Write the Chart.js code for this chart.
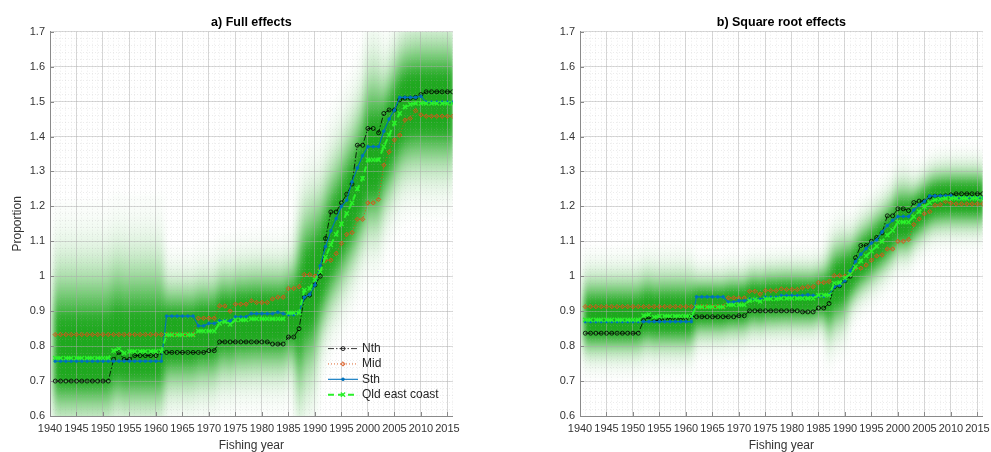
<!DOCTYPE html>
<html>
<head>
<meta charset="utf-8">
<script src="https://cdn.jsdelivr.net/npm/chart.js@4.4.1/dist/chart.umd.min.js"></script>
<style>
  html, body { margin: 0; padding: 0; background: #ffffff; }
  #wrap { position: relative; width: 991px; height: 452px; overflow: hidden; background: #ffffff; }
  .panel { position: absolute; top: 0; width: 480px; height: 452px; }
  #pA { left: 0; }
  #pB { left: 530px; }
</style>
</head>
<body>
<div id="wrap">
  <div class="panel" id="pA"><canvas id="cA" width="480" height="452"></canvas></div>
  <div class="panel" id="pB"><canvas id="cB" width="480" height="452"></canvas></div>
</div>
<script>
// ---- data -------------------------------------------------------------
const years = [
  1941,1942,1943,1944,1945,1946,1947,1948,1949,1950,
  1951,1952,1953,1954,1955,1956,1957,1958,1959,1960,
  1961,1962,1963,1964,1965,1966,1967,1968,1969,1970,
  1971,1972,1973,1974,1975,1976,1977,1978,1979,1980,
  1981,1982,1983,1984,1985,1986,1987,1988,1989,1990,
  1991,1992,1993,1994,1995,1996,1997,1998,1999,2000,
  2001,2002,2003,2004,2005,2006,2007,2008,2009,2010,
  2011,2012,2013,2014,2015,2016
];
const xTicks = [1940,1945,1950,1955,1960,1965,1970,1975,1980,1985,1990,1995,2000,2005,2010,2015];
const yTicks = [0.6,0.7,0.8,0.9,1,1.1,1.2,1.3,1.4,1.5,1.6,1.7];
const seriesNames = ['Nth', 'Mid', 'Sth', 'Qld east coast'];

// a) full effects
const fullNth = [
  0.700,0.700,0.700,0.700,0.700,0.700,0.700,0.700,0.700,0.700,
  0.700,0.762,0.782,0.762,0.762,0.773,0.773,0.773,0.773,0.773,
  0.782,0.782,0.782,0.782,0.782,0.782,0.782,0.782,0.782,0.787,
  0.787,0.812,0.812,0.812,0.812,0.812,0.812,0.812,0.812,0.812,
  0.812,0.806,0.806,0.806,0.826,0.826,0.850,0.940,0.946,0.975,
  1.000,1.108,1.184,1.184,1.210,1.235,1.264,1.375,1.375,1.423,
  1.423,1.411,1.466,1.476,1.476,1.505,1.510,1.510,1.512,1.520,
  1.528,1.528,1.528,1.528,1.528,1.528
];
const fullMid = [
  0.833,0.833,0.833,0.833,0.833,0.833,0.833,0.833,0.833,0.833,
  0.833,0.833,0.833,0.833,0.833,0.833,0.833,0.833,0.833,0.833,
  0.833,0.833,0.833,0.833,0.833,0.833,0.833,0.880,0.880,0.880,
  0.880,0.915,0.915,0.900,0.920,0.920,0.920,0.930,0.925,0.925,
  0.925,0.935,0.940,0.940,0.965,0.965,0.970,1.005,1.005,1.000,
  1.020,1.046,1.046,1.065,1.094,1.120,1.125,1.163,1.163,1.210,
  1.210,1.220,1.318,1.356,1.390,1.404,1.447,1.452,1.474,1.462,
  1.458,1.458,1.458,1.458,1.458,1.458
];
const fullSth = [
  0.757,0.757,0.757,0.757,0.757,0.757,0.757,0.757,0.757,0.757,
  0.757,0.757,0.757,0.757,0.757,0.757,0.757,0.757,0.757,0.757,
  0.757,0.886,0.886,0.886,0.886,0.886,0.886,0.858,0.858,0.865,
  0.865,0.872,0.872,0.872,0.884,0.884,0.884,0.893,0.893,0.893,
  0.893,0.893,0.897,0.893,0.890,0.890,0.897,0.940,0.948,0.975,
  1.030,1.085,1.130,1.165,1.200,1.218,1.270,1.310,1.345,1.371,
  1.371,1.371,1.415,1.450,1.475,1.512,1.512,1.512,1.512,1.515,
  1.498,1.498,1.498,1.498,1.498,1.498
];
const fullQld = [
  0.766,0.766,0.766,0.766,0.766,0.766,0.766,0.766,0.766,0.766,
  0.766,0.787,0.792,0.780,0.785,0.785,0.785,0.785,0.785,0.785,
  0.785,0.832,0.832,0.832,0.832,0.832,0.832,0.843,0.843,0.843,
  0.843,0.865,0.870,0.862,0.875,0.875,0.875,0.878,0.878,0.878,
  0.878,0.878,0.878,0.878,0.895,0.895,0.895,0.960,0.965,0.990,
  1.013,1.055,1.090,1.120,1.150,1.180,1.210,1.250,1.280,1.333,
  1.333,1.333,1.371,1.404,1.438,1.466,1.485,1.492,1.495,1.495,
  1.495,1.495,1.495,1.495,1.495,1.495
];

// b) square root effects
const sqrtNth = [
  0.837,0.837,0.837,0.837,0.837,0.837,0.837,0.837,0.837,0.837,
  0.837,0.873,0.884,0.873,0.873,0.879,0.879,0.879,0.879,0.879,
  0.884,0.884,0.884,0.884,0.884,0.884,0.884,0.884,0.884,0.887,
  0.887,0.901,0.901,0.901,0.901,0.901,0.901,0.901,0.901,0.901,
  0.901,0.898,0.898,0.898,0.909,0.909,0.922,0.970,0.973,0.987,
  1.000,1.053,1.088,1.088,1.100,1.111,1.124,1.173,1.173,1.193,
  1.193,1.188,1.211,1.215,1.215,1.227,1.229,1.229,1.230,1.233,
  1.236,1.236,1.236,1.236,1.236,1.236
];
const sqrtMid = [
  0.913,0.913,0.913,0.913,0.913,0.913,0.913,0.913,0.913,0.913,
  0.913,0.913,0.913,0.913,0.913,0.913,0.913,0.913,0.913,0.913,
  0.913,0.913,0.913,0.913,0.913,0.913,0.913,0.938,0.938,0.938,
  0.938,0.957,0.957,0.949,0.959,0.959,0.959,0.964,0.962,0.962,
  0.962,0.967,0.970,0.970,0.982,0.982,0.985,1.002,1.002,1.000,
  1.010,1.023,1.023,1.032,1.046,1.058,1.061,1.078,1.078,1.100,
  1.100,1.105,1.148,1.164,1.179,1.185,1.203,1.205,1.214,1.209,
  1.207,1.207,1.207,1.207,1.207,1.207
];
const sqrtSth = [
  0.870,0.870,0.870,0.870,0.870,0.870,0.870,0.870,0.870,0.870,
  0.870,0.870,0.870,0.870,0.870,0.870,0.870,0.870,0.870,0.870,
  0.870,0.941,0.941,0.941,0.941,0.941,0.941,0.926,0.926,0.930,
  0.930,0.934,0.934,0.934,0.940,0.940,0.940,0.945,0.945,0.945,
  0.945,0.945,0.947,0.945,0.943,0.943,0.947,0.970,0.974,0.987,
  1.015,1.042,1.063,1.079,1.095,1.104,1.127,1.145,1.160,1.171,
  1.171,1.171,1.190,1.204,1.214,1.230,1.230,1.230,1.230,1.231,
  1.224,1.224,1.224,1.224,1.224,1.224
];
const sqrtQld = [
  0.875,0.875,0.875,0.875,0.875,0.875,0.875,0.875,0.875,0.875,
  0.875,0.887,0.890,0.883,0.886,0.886,0.886,0.886,0.886,0.886,
  0.886,0.912,0.912,0.912,0.912,0.912,0.912,0.918,0.918,0.918,
  0.918,0.930,0.933,0.928,0.935,0.935,0.935,0.937,0.937,0.937,
  0.937,0.937,0.937,0.937,0.946,0.946,0.946,0.980,0.982,0.995,
  1.006,1.027,1.044,1.058,1.072,1.086,1.100,1.118,1.131,1.155,
  1.155,1.155,1.171,1.185,1.199,1.211,1.219,1.221,1.223,1.223,
  1.223,1.223,1.223,1.223,1.223,1.223
];

// spread of the coast-wide estimate (spread below / above the line), by period
const bandFrom = [1941, 1962, 1987, 1991, 2000, 2003];
const bandTo   = [1961, 1986, 1990, 1999, 2002, 2016];
const fullSpreadBelow = [0.095, 0.090, 0.150, 0.110, 0.120, 0.110];
const fullSpreadAbove = [0.150, 0.085, 0.140, 0.130, 0.150, 0.110];
const sqrtSpreadBelow = [0.056, 0.050, 0.075, 0.055, 0.055, 0.050];
const sqrtSpreadAbove = [0.070, 0.050, 0.070, 0.060, 0.065, 0.050];

// ---- styling ----------------------------------------------------------
const FONT = '"Liberation Sans", Arial, Helvetica, sans-serif';
Chart.defaults.font.family = FONT;

const lineStyles = [
  { color: '#000000', width: 0.8, dash: [6, 2, 1.5, 2], point: 'circle',   radius: 2.0, pw: 0.8, fill: 'rgba(255,255,255,0)' },
  { color: '#D95319', width: 0.9, dash: [1, 2],         point: 'rectRot',  radius: 2.2, pw: 0.9, fill: 'rgba(217,83,25,0.25)' },
  { color: '#0072BD', width: 1.1, dash: [],             point: 'circle',   radius: 1.4, pw: 0.8, fill: '#0072BD' },
  { color: '#2BF02B', width: 2.0, dash: [6, 4],         point: 'crossRot', radius: 3.0, pw: 1.4, fill: '#2BF02B' }
];
const drawOrder = [3, 2, 1, 0];
const GRID_MAJOR = 'rgba(170,170,170,0.45)';
const GRID_MINOR = 'rgba(170,170,170,0.22)';
const AXIS = '#8a8a8a';
const TEXT = '#333333';

function bandAlpha(z) {
  return Math.min(1, 1.25 * Math.exp(-z * z / 2));
}
function bandColor(z) {
  return 'rgba(30,168,30,' + bandAlpha(z).toFixed(4) + ')';
}

// soft green density band around the coast-wide series
function densityBand(centers, below, above) {
  return {
    id: 'densityBand',
    beforeDraw(chart) {
      const { ctx, chartArea: a, scales: { x, y } } = chart;
      const off = document.createElement('canvas');
      off.width = chart.width;
      off.height = chart.height;
      const o = off.getContext('2d');
      years.forEach((yr, i) => {
        const seg = bandFrom.findIndex((f, k) => yr >= f && yr <= bandTo[k]);
        const c = centers[i];
        const sb = below[seg], sa = above[seg];
        const x0 = Math.round(x.getPixelForValue(yr - 0.5));
        const x1 = Math.round(x.getPixelForValue(yr + 0.5));
        const yTop = y.getPixelForValue(c + 3 * sa);
        const yMid = y.getPixelForValue(c);
        const yBot = y.getPixelForValue(c - 3 * sb);
        const f = (yMid - yTop) / (yBot - yTop);
        const g = o.createLinearGradient(0, yTop, 0, yBot);
        for (let z = 3; z > 0; z -= 0.25) g.addColorStop(f * (1 - z / 3), bandColor(z));
        g.addColorStop(f, bandColor(0));
        for (let z = 0.25; z <= 3; z += 0.25) g.addColorStop(f + (1 - f) * z / 3, bandColor(z));
        o.fillStyle = g;
        o.fillRect(x0, yTop, x1 - x0, yBot - yTop);
      });
      ctx.save();
      ctx.beginPath();
      ctx.rect(a.left, a.top, a.right - a.left, a.bottom - a.top);
      ctx.clip();
      ctx.filter = 'blur(3px)';
      ctx.drawImage(off, 0, 0, chart.width, chart.height);
      ctx.restore();
    }
  };
}

// short tick marks pointing into the plot
const inwardTicks = {
  id: 'inwardTicks',
  beforeDatasetsDraw(chart) {
    const { ctx, chartArea: a, scales: { x, y } } = chart;
    ctx.save();
    ctx.strokeStyle = AXIS;
    ctx.lineWidth = 1;
    ctx.beginPath();
    x.ticks.forEach(t => {
      const px = Math.round(x.getPixelForValue(t.value)) + 0.5;
      ctx.moveTo(px, a.bottom);
      ctx.lineTo(px, a.bottom - 4);
    });
    y.ticks.forEach(t => {
      const py = Math.round(y.getPixelForValue(t.value)) + 0.5;
      ctx.moveTo(a.left, py);
      ctx.lineTo(a.left + 4, py);
    });
    ctx.stroke();
    ctx.restore();
  }
};

// series key drawn inside the lower right of the plot
function seriesKey(show) {
  return {
    id: 'seriesKey',
    afterDatasetsDraw(chart) {
      if (!show) return;
      const { ctx, chartArea: a } = chart;
      ctx.save();
      chart.data.datasets.forEach((ds, k) => {
        const cy = a.bottom - 67.4 + k * 15.35;
        const x0 = a.left + 278, x1 = a.left + 308;
        ctx.strokeStyle = ds.borderColor;
        ctx.lineWidth = ds.borderWidth;
        ctx.setLineDash(ds.borderDash);
        ctx.beginPath();
        ctx.moveTo(x0, cy);
        ctx.lineTo(x1, cy);
        ctx.stroke();
        ctx.setLineDash([]);
        ctx.fillStyle = ds.pointBackgroundColor;
        ctx.strokeStyle = ds.pointBorderColor;
        ctx.lineWidth = ds.pointBorderWidth;
        Chart.helpers.drawPoint(ctx, {
          pointStyle: ds.pointStyle, radius: ds.pointRadius, borderWidth: ds.pointBorderWidth, rotation: 0
        }, (x0 + x1) / 2, cy);
        ctx.fillStyle = '#262626';
        ctx.font = '12px ' + FONT;
        ctx.textAlign = 'left';
        ctx.textBaseline = 'middle';
        ctx.fillText(ds.label, a.left + 312, cy);
      });
      ctx.restore();
    }
  };
}

function makePanel(canvasId, titleText, series, below, above, showYTitle, showKey) {
  const datasets = series.map((vals, k) => ({
    label: seriesNames[k],
    data: years.map((yr, i) => ({ x: yr, y: vals[i] })),
    borderColor: lineStyles[k].color,
    borderWidth: lineStyles[k].width,
    borderDash: lineStyles[k].dash,
    pointStyle: lineStyles[k].point,
    pointRadius: lineStyles[k].radius,
    pointHoverRadius: lineStyles[k].radius,
    pointBorderWidth: lineStyles[k].pw,
    pointBorderColor: lineStyles[k].color,
    pointBackgroundColor: lineStyles[k].fill,
    tension: 0,
    fill: false,
    order: drawOrder[k]
  }));

  return new Chart(document.getElementById(canvasId), {
    type: 'line',
    data: { datasets },
    plugins: [densityBand(series[3], below, above), inwardTicks, seriesKey(showKey)],
    options: {
      responsive: false,
      animation: false,
      events: [],
      layout: { padding: { left: 0, right: 27.3, top: 0, bottom: 0 } },
      plugins: {
        legend: { display: false },
        tooltip: { enabled: false },
        title: {
          display: true,
          text: titleText,
          fullSize: false,
          color: '#000000',
          font: { size: 12.5, weight: 'bold', lineHeight: 1.2 },
          padding: { top: 15.5, bottom: 1.2 }
        }
      },
      scales: {
        x: {
          type: 'linear',
          position: 'bottom',
          min: 1940,
          max: 2016,
          afterBuildTicks: s => { s.ticks = xTicks.map(v => ({ value: v })); },
          afterFit: s => { s.height = 36; },
          ticks: { color: TEXT, font: { size: 11 }, padding: 6.5, maxRotation: 0, autoSkip: false, callback: v => String(v) },
          grid: { color: GRID_MAJOR, lineWidth: 1, drawTicks: false },
          border: { display: true, color: AXIS, width: 1 },
          title: { display: true, text: 'Fishing year', color: TEXT, font: { size: 12, lineHeight: 1 }, padding: { top: 0, bottom: 0 } }
        },
        y: {
          type: 'linear',
          position: 'left',
          min: 0.6,
          max: 1.7,
          afterBuildTicks: s => { s.ticks = yTicks.map(v => ({ value: v })); },
          afterFit: s => { s.width = 50; },
          ticks: { color: TEXT, font: { size: 11 }, padding: 5, callback: v => String(v) },
          grid: { color: GRID_MAJOR, lineWidth: 1, drawTicks: false },
          border: { display: true, color: AXIS, width: 1 },
          title: { display: showYTitle, text: 'Proportion', color: TEXT, font: { size: 12, lineHeight: 1.2 }, padding: { top: 10.8, bottom: 0 } }
        },
        xm: {
          type: 'linear',
          position: 'bottom',
          min: 1940,
          max: 2016,
          afterFit: s => { s.height = 0; },
          ticks: { display: false, stepSize: 1 },
          grid: { color: GRID_MINOR, lineWidth: 1, drawTicks: false },
          border: { display: false, dash: [1, 2] }
        },
        ym: {
          type: 'linear',
          position: 'left',
          min: 0.6,
          max: 1.7,
          afterFit: s => { s.width = 0; },
          ticks: { display: false, stepSize: 0.02 },
          grid: { color: GRID_MINOR, lineWidth: 1, drawTicks: false },
          border: { display: false, dash: [1, 2] }
        }
      }
    }
  });
}

makePanel('cA', 'a) Full effects', [fullNth, fullMid, fullSth, fullQld], fullSpreadBelow, fullSpreadAbove, true, true);
makePanel('cB', 'b) Square root effects', [sqrtNth, sqrtMid, sqrtSth, sqrtQld], sqrtSpreadBelow, sqrtSpreadAbove, false, false);
</script>
</body>
</html>
